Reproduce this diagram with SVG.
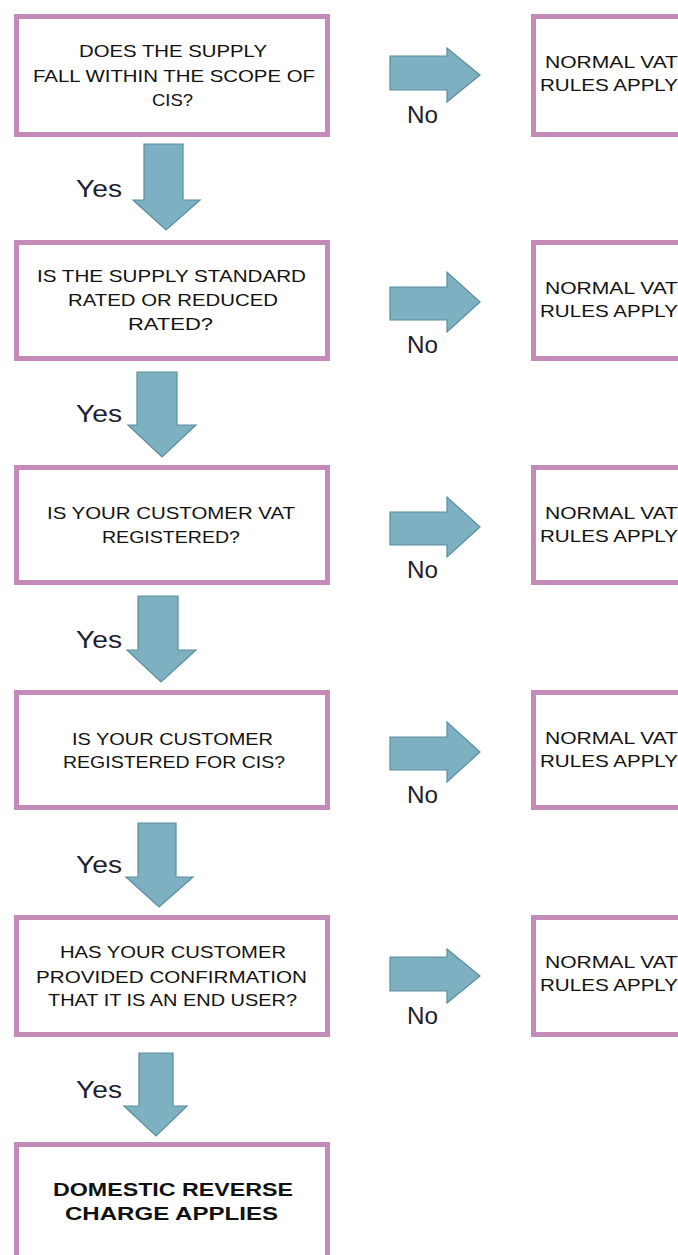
<svg xmlns="http://www.w3.org/2000/svg" width="678" height="1255" viewBox="0 0 678 1255">
<style>
.box{fill:#ffffff;stroke:#c48bb9;stroke-width:5}
.q{font-family:"Liberation Sans",Arial,sans-serif;font-size:16.5px;fill:#111111;text-anchor:middle}
.r{font-family:"Liberation Sans",Arial,sans-serif;font-size:16.5px;fill:#111111}
.b{font-family:"Liberation Sans",Arial,sans-serif;font-size:19px;font-weight:bold;fill:#111111;text-anchor:middle}
.lbl{font-family:"Liberation Sans",Arial,sans-serif;font-size:23px;fill:#1e2030}
.arr{fill:#7db1c2;stroke:#5b8d9e;stroke-width:1.2;stroke-linejoin:miter}
</style>
<rect width="678" height="1255" fill="#ffffff"/>
<g id="connectors">
<polygon class="arr" points="144,144 183,144 183,200 200,200 166,230 133,200 144,200"/>
<polygon class="arr" points="137,372 177,372 177,425 196,425 162,457 128,425 137,425"/>
<polygon class="arr" points="138,596 178,596 178,650 196,650 161,682 127,650 138,650"/>
<polygon class="arr" points="138,823 176,823 176,877 193,877 159,907 126,877 138,877"/>
<polygon class="arr" points="139,1053 173,1053 173,1106 187,1106 156,1136 124,1106 139,1106"/>
<text class="lbl" x="76" y="197" textLength="46" lengthAdjust="spacingAndGlyphs">Yes</text>
<text class="lbl" x="76" y="422" textLength="46" lengthAdjust="spacingAndGlyphs">Yes</text>
<text class="lbl" x="76" y="648" textLength="46" lengthAdjust="spacingAndGlyphs">Yes</text>
<text class="lbl" x="76" y="873" textLength="46" lengthAdjust="spacingAndGlyphs">Yes</text>
<text class="lbl" x="76" y="1098" textLength="46" lengthAdjust="spacingAndGlyphs">Yes</text>
<polygon class="arr" points="390,56 447,56 447,48 480,75 447,102 447,90 390,90"/>
<polygon class="arr" points="390,287 447,287 447,272 480,302 447,332 447,320 390,320"/>
<polygon class="arr" points="390,512 447,512 447,497 480,527 447,557 447,545 390,545"/>
<polygon class="arr" points="390,737 447,737 447,722 480,752 447,782 447,770 390,770"/>
<polygon class="arr" points="390,957 447,957 447,949 480,976 447,1003 447,991 390,991"/>
<text class="lbl" x="407" y="123" textLength="31" lengthAdjust="spacingAndGlyphs">No</text>
<text class="lbl" x="407" y="353" textLength="31" lengthAdjust="spacingAndGlyphs">No</text>
<text class="lbl" x="407" y="578" textLength="31" lengthAdjust="spacingAndGlyphs">No</text>
<text class="lbl" x="407" y="803" textLength="31" lengthAdjust="spacingAndGlyphs">No</text>
<text class="lbl" x="407" y="1024" textLength="31" lengthAdjust="spacingAndGlyphs">No</text>
</g>
<g id="q1">
<rect class="box" x="16.5" y="16.5" width="311" height="118"/>
<text class="q" x="173" y="57" textLength="188" lengthAdjust="spacingAndGlyphs">DOES THE SUPPLY</text>
<text class="q" x="174" y="82" textLength="282" lengthAdjust="spacingAndGlyphs">FALL WITHIN THE SCOPE OF</text>
<text class="q" x="172.5" y="106" textLength="41" lengthAdjust="spacingAndGlyphs">CIS?</text>
</g>
<g id="q2">
<rect class="box" x="16.5" y="242.5" width="311" height="116"/>
<text class="q" x="171.5" y="282" textLength="269" lengthAdjust="spacingAndGlyphs">IS THE SUPPLY STANDARD</text>
<text class="q" x="173" y="306" textLength="210" lengthAdjust="spacingAndGlyphs">RATED OR REDUCED</text>
<text class="q" x="170.5" y="330" textLength="85" lengthAdjust="spacingAndGlyphs">RATED?</text>
</g>
<g id="q3">
<rect class="box" x="16.5" y="467.5" width="311" height="115"/>
<text class="q" x="171" y="519" textLength="248" lengthAdjust="spacingAndGlyphs">IS YOUR CUSTOMER VAT</text>
<text class="q" x="171" y="543" textLength="138" lengthAdjust="spacingAndGlyphs">REGISTERED?</text>
</g>
<g id="q4">
<rect class="box" x="16.5" y="692.5" width="311" height="115"/>
<text class="q" x="172.5" y="745" textLength="201" lengthAdjust="spacingAndGlyphs">IS YOUR CUSTOMER</text>
<text class="q" x="174" y="768" textLength="222" lengthAdjust="spacingAndGlyphs">REGISTERED FOR CIS?</text>
</g>
<g id="q5">
<rect class="box" x="16.5" y="917.5" width="311" height="117"/>
<text class="q" x="173" y="958" textLength="226" lengthAdjust="spacingAndGlyphs">HAS YOUR CUSTOMER</text>
<text class="q" x="171.5" y="983" textLength="271" lengthAdjust="spacingAndGlyphs">PROVIDED CONFIRMATION</text>
<text class="q" x="172.5" y="1006" textLength="249" lengthAdjust="spacingAndGlyphs">THAT IT IS AN END USER?</text>
</g>
<g id="result">
<rect class="box" x="16.5" y="1144.5" width="311" height="130"/>
<text class="b" x="173" y="1196" textLength="240" lengthAdjust="spacingAndGlyphs">DOMESTIC REVERSE</text>
<text class="b" x="171.5" y="1220" textLength="213" lengthAdjust="spacingAndGlyphs">CHARGE APPLIES</text>
</g>
<g id="n1">
<rect class="box" x="533.5" y="16.5" width="200" height="118"/>
<text class="r" x="545" y="68" textLength="133" lengthAdjust="spacingAndGlyphs">NORMAL VAT</text>
<text class="r" x="540" y="91" textLength="138" lengthAdjust="spacingAndGlyphs">RULES APPLY</text>
</g>
<g id="n2">
<rect class="box" x="533.5" y="242.5" width="200" height="116"/>
<text class="r" x="545" y="294" textLength="133" lengthAdjust="spacingAndGlyphs">NORMAL VAT</text>
<text class="r" x="540" y="317" textLength="138" lengthAdjust="spacingAndGlyphs">RULES APPLY</text>
</g>
<g id="n3">
<rect class="box" x="533.5" y="467.5" width="200" height="115"/>
<text class="r" x="545" y="519" textLength="133" lengthAdjust="spacingAndGlyphs">NORMAL VAT</text>
<text class="r" x="540" y="542" textLength="138" lengthAdjust="spacingAndGlyphs">RULES APPLY</text>
</g>
<g id="n4">
<rect class="box" x="533.5" y="692.5" width="200" height="115"/>
<text class="r" x="545" y="744" textLength="133" lengthAdjust="spacingAndGlyphs">NORMAL VAT</text>
<text class="r" x="540" y="767" textLength="138" lengthAdjust="spacingAndGlyphs">RULES APPLY</text>
</g>
<g id="n5">
<rect class="box" x="533.5" y="917.5" width="200" height="117"/>
<text class="r" x="545" y="968" textLength="133" lengthAdjust="spacingAndGlyphs">NORMAL VAT</text>
<text class="r" x="540" y="991" textLength="138" lengthAdjust="spacingAndGlyphs">RULES APPLY</text>
</g>
</svg>
